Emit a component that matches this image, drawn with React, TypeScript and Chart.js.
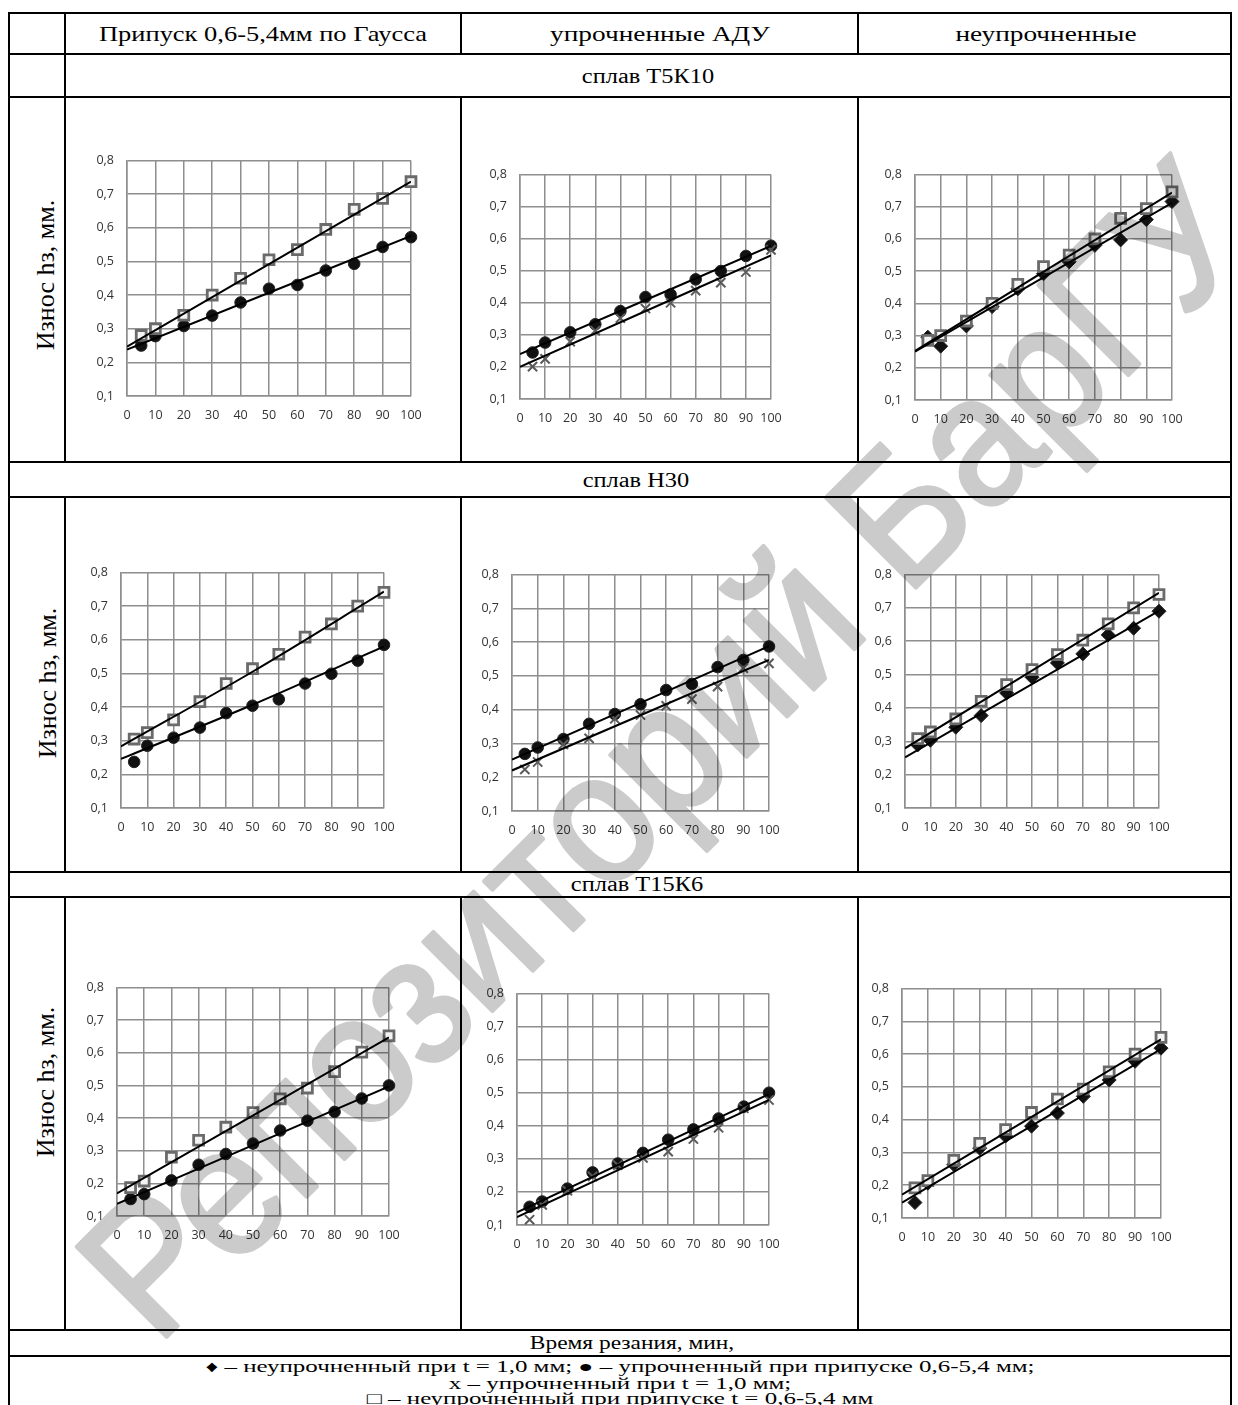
import React, { useEffect, useRef } from "react";
import { Chart, registerables } from "chart.js";

Chart.register(...registerables);

// ---------- shared axis values ----------
const TIME = [5, 10, 20, 30, 40, 50, 60, 70, 80, 90, 100];
const X_TICKS = [0, 10, 20, 30, 40, 50, 60, 70, 80, 90, 100];
const Y_TICKS = [0.1, 0.2, 0.3, 0.4, 0.5, 0.6, 0.7, 0.8];
const TREND_X = [0, 100];
const TREND_X3 = [0, 50, 100];

// ---------- сплав Т5К10 ----------
const t5k10GaussSquares = [0.28, 0.3, 0.34, 0.4, 0.45, 0.505, 0.535, 0.595, 0.655, 0.687, 0.737];
const t5k10GaussCircles = [0.25, 0.278, 0.308, 0.339, 0.378, 0.419, 0.43, 0.473, 0.493, 0.543, 0.572];
const t5k10GaussTrendSquares = [0.247, 0.737];
const t5k10GaussTrendCircles = [0.238, 0.576];

const t5k10AduCircles = [0.245, 0.276, 0.308, 0.333, 0.374, 0.418, 0.426, 0.473, 0.499, 0.546, 0.578];
const t5k10AduCrosses = [0.201, 0.225, 0.279, 0.313, 0.352, 0.382, 0.4, 0.438, 0.463, 0.496, 0.565];
const t5k10AduTrendCircles = [0.24, 0.577];
const t5k10AduTrendCrosses = [0.2, 0.548];

const t5k10RawSquares = [0.285, 0.3, 0.345, 0.4, 0.459, 0.514, 0.55, 0.6, 0.664, 0.694, 0.746];
const t5k10RawDiamonds = [0.295, 0.267, 0.33, 0.39, 0.445, 0.492, 0.529, 0.58, 0.597, 0.66, 0.716];
const t5k10RawTrendSquares = [0.252, 0.744];
const t5k10RawTrendDiamonds = [0.25, 0.712];

// ---------- сплав Н30 ----------
const h30GaussSquares = [0.305, 0.324, 0.362, 0.416, 0.47, 0.514, 0.557, 0.608, 0.647, 0.7, 0.741];
const h30GaussCircles = [0.237, 0.285, 0.309, 0.339, 0.382, 0.404, 0.423, 0.47, 0.499, 0.538, 0.585];
const h30GaussTrendSquares = [0.283, 0.505, 0.743];
const h30GaussTrendCircles = [0.246, 0.407, 0.58];

const h30AduCircles = [0.269, 0.288, 0.313, 0.358, 0.387, 0.416, 0.458, 0.476, 0.526, 0.547, 0.587];
const h30AduCrosses = [0.223, 0.245, 0.297, 0.315, 0.373, 0.384, 0.411, 0.431, 0.468, 0.523, 0.537];
const h30AduTrendCircles = [0.252, 0.588];
const h30AduTrendCrosses = [0.22, 0.547];

const h30RawSquares = [0.308, 0.328, 0.367, 0.42, 0.47, 0.515, 0.56, 0.603, 0.652, 0.7, 0.74];
const h30RawDiamonds = [0.289, 0.303, 0.342, 0.377, 0.445, 0.492, 0.535, 0.562, 0.619, 0.639, 0.69];
const h30RawTrendSquares = [0.279, 0.745];
const h30RawTrendDiamonds = [0.252, 0.691];

// ---------- сплав Т15К6 ----------
const t15k6GaussSquares = [0.187, 0.207, 0.28, 0.332, 0.372, 0.417, 0.459, 0.492, 0.542, 0.602, 0.652];
const t15k6GaussCircles = [0.152, 0.167, 0.209, 0.257, 0.29, 0.322, 0.362, 0.392, 0.419, 0.46, 0.5];
const t15k6GaussTrendSquares = [0.169, 0.647];
const t15k6GaussTrendCircles = [0.137, 0.497];

const t15k6AduCircles = [0.155, 0.171, 0.21, 0.259, 0.286, 0.318, 0.358, 0.389, 0.422, 0.458, 0.5];
const t15k6AduCrosses = [0.116, 0.161, 0.204, 0.247, 0.281, 0.303, 0.322, 0.36, 0.394, 0.453, 0.478];
const t15k6AduTrendCircles = [0.138, 0.496];
const t15k6AduTrendCrosses = [0.124, 0.478];

const t15k6RawSquares = [0.192, 0.214, 0.276, 0.328, 0.37, 0.422, 0.463, 0.493, 0.546, 0.6, 0.651];
const t15k6RawDiamonds = [0.147, 0.206, 0.263, 0.313, 0.35, 0.38, 0.42, 0.471, 0.521, 0.578, 0.618];
const t15k6RawTrendSquares = [0.171, 0.645];
const t15k6RawTrendDiamonds = [0.147, 0.615];

// ---------- texts ----------
const HEADERS = ["Припуск 0,6-5,4мм по Гаусса", "упрочненные АДУ", "неупрочненные"];
const ALLOYS = ["сплав Т5К10", "сплав Н30", "сплав Т15К6"];
const Y_TITLE = "Износ hз, мм.";
const X_TITLE = "Время резания, мин,";
const LEGEND_LINES = [
  "♦ – неупрочненный при t = 1,0 мм;  ● – упрочненный при припуске 0,6-5,4 мм;",
  "х – упрочненный при t = 1,0 мм;",
  "□ – неупрочненный при припуске t = 0,6-5,4 мм",
];
const WATERMARK = "Репозиторий БарГУ";

type Kind = "square" | "circle" | "cross" | "diamond";
type Series = { kind: Kind; y: number[] };
type Trend = { x: number[]; y: number[] };
type Rect = { l: number; t: number; r: number; b: number };

const GRID = "#8e8e8e";
const PADL = 60;
const PADT = 15;
const PADR = 24;
const PADB = 44;

function markerStyle(kind: Kind) {
  switch (kind) {
    case "square":
      return { pointStyle: "rect", pointRadius: 7, pointBackgroundColor: "#f4f4f4", pointBorderColor: "#6a6a6a", pointBorderWidth: 2.8 };
    case "circle":
      return { pointStyle: "circle", pointRadius: 5.8, pointBackgroundColor: "#111111", pointBorderColor: "#222222", pointBorderWidth: 1 };
    case "cross":
      return { pointStyle: "crossRot", pointRadius: 6.5, pointBackgroundColor: "#5a5a5a", pointBorderColor: "#5a5a5a", pointBorderWidth: 2 };
    default:
      return { pointStyle: "rectRot", pointRadius: 7, pointBackgroundColor: "#111111", pointBorderColor: "#222222", pointBorderWidth: 1 };
  }
}

function Plot({ rect, series, trends }: { rect: Rect; series: Series[]; trends: Trend[] }) {
  const ref = useRef<HTMLCanvasElement>(null);
  const left = Math.round(rect.l) - PADL;
  const top = Math.round(rect.t) - PADT;
  const w = Math.round(rect.r) - Math.round(rect.l) + PADL + PADR;
  const h = Math.round(rect.b) - Math.round(rect.t) + PADT + PADB;

  useEffect(() => {
    if (!ref.current) return;
    const trendSets = trends.map((tr) => ({
      data: tr.x.map((x, i) => ({ x, y: tr.y[i] })),
      showLine: true,
      pointRadius: 0,
      borderColor: "#000000",
      borderWidth: 2,
      cubicInterpolationMode: "monotone",
      fill: false,
    }));
    const markerSets = series.map((s) => ({
      data: TIME.map((x, i) => ({ x, y: s.y[i] })),
      showLine: false,
      clip: false,
      ...markerStyle(s.kind),
    }));
    const tickFont = { family: "'Open Sans', 'Noto Sans', sans-serif", size: 12.5 };
    const chart = new Chart(ref.current, {
      type: "scatter",
      data: { datasets: [...trendSets, ...markerSets] as any },
      options: {
        responsive: false,
        animation: false,
        devicePixelRatio: 1,
        layout: { padding: { left: 0, top: PADT, right: PADR, bottom: 0 } },
        plugins: { legend: { display: false }, tooltip: { enabled: false } },
        scales: {
          x: {
            type: "linear",
            min: 0,
            max: 100,
            afterBuildTicks: (s: any) => {
              s.ticks = X_TICKS.map((v) => ({ value: v }));
            },
            afterFit: (s: any) => {
              s.height = PADB;
            },
            grid: { color: GRID, lineWidth: 1.5, drawTicks: false },
            border: { color: GRID, width: 1.5 },
            ticks: {
              padding: 12,
              color: "#333333",
              font: tickFont,
              autoSkip: false,
              maxRotation: 0,
              callback: (v: any) => String(v),
            },
          },
          y: {
            type: "linear",
            min: 0.1,
            max: 0.8,
            afterBuildTicks: (s: any) => {
              s.ticks = Y_TICKS.map((v) => ({ value: v }));
            },
            afterFit: (s: any) => {
              s.width = PADL;
            },
            grid: { color: GRID, lineWidth: 1.5, drawTicks: false },
            border: { color: GRID, width: 1.5 },
            ticks: {
              padding: 13,
              color: "#333333",
              font: tickFont,
              autoSkip: false,
              callback: (v: any) => Number(v).toFixed(1).replace(".", ","),
            },
          },
        },
      } as any,
    });
    return () => chart.destroy();
  }, []);

  return (
    <canvas
      ref={ref}
      width={w}
      height={h}
      style={{ position: "absolute", left, top, width: w, height: h }}
    />
  );
}

const SERIF = "'Liberation Serif', 'Times New Roman', serif";

function Text({ cx, cy, text, size = 20, sx = 1.28 }: { cx: number; cy: number; text: string; size?: number; sx?: number }) {
  return (
    <div
      style={{
        position: "absolute",
        left: cx - 600,
        width: 1200,
        top: cy - size,
        height: size * 2,
        lineHeight: `${size * 2}px`,
        textAlign: "center",
        fontFamily: SERIF,
        fontSize: size,
        color: "#000",
        whiteSpace: "nowrap",
        transform: `scaleX(${sx})`,
        transformOrigin: "50% 50%",
      }}
    >
      {text}
    </div>
  );
}

function VText({ cx, cy, text }: { cx: number; cy: number; text: string }) {
  return (
    <div
      style={{
        position: "absolute",
        left: cx - 150,
        top: cy - 16,
        width: 300,
        height: 32,
        lineHeight: "32px",
        textAlign: "center",
        fontFamily: SERIF,
        fontSize: 26,
        transform: "rotate(-90deg)",
        whiteSpace: "nowrap",
      }}
    >
      {text}
    </div>
  );
}

const LX = 9;
const RX = 1231;
const C1 = 65;
const C2 = 461;
const C3 = 858;
const ROW_Y = [13, 54, 97, 462, 497, 872, 897, 1330, 1356];

function HLine({ y }: { y: number }) {
  return <div style={{ position: "absolute", left: LX - 1, top: y - 1, width: RX - LX + 2, height: 2, background: "#000" }} />;
}
function VLine({ x, y1, y2 }: { x: number; y1: number; y2: number }) {
  return <div style={{ position: "absolute", left: x - 1, top: y1 - 1, width: 2, height: y2 - y1 + 2, background: "#000" }} />;
}

export default function App() {
  useEffect(() => {
    document.body.style.margin = "0";
  }, []);

  const plots: { rect: Rect; series: Series[]; trends: Trend[] }[] = [
    {
      rect: { l: 127, t: 155, r: 411, b: 396 },
      series: [{ kind: "square", y: t5k10GaussSquares }, { kind: "circle", y: t5k10GaussCircles }],
      trends: [{ x: TREND_X, y: t5k10GaussTrendSquares }, { x: TREND_X, y: t5k10GaussTrendCircles }],
    },
    {
      rect: { l: 520, t: 169, r: 771, b: 399 },
      series: [{ kind: "cross", y: t5k10AduCrosses }, { kind: "circle", y: t5k10AduCircles }],
      trends: [{ x: TREND_X, y: t5k10AduTrendCircles }, { x: TREND_X, y: t5k10AduTrendCrosses }],
    },
    {
      rect: { l: 915, t: 169, r: 1172, b: 400 },
      series: [{ kind: "square", y: t5k10RawSquares }, { kind: "diamond", y: t5k10RawDiamonds }],
      trends: [{ x: TREND_X, y: t5k10RawTrendSquares }, { x: TREND_X, y: t5k10RawTrendDiamonds }],
    },
    {
      rect: { l: 121, t: 567, r: 384, b: 808 },
      series: [{ kind: "square", y: h30GaussSquares }, { kind: "circle", y: h30GaussCircles }],
      trends: [{ x: TREND_X3, y: h30GaussTrendSquares }, { x: TREND_X3, y: h30GaussTrendCircles }],
    },
    {
      rect: { l: 512, t: 569, r: 769, b: 811 },
      series: [{ kind: "cross", y: h30AduCrosses }, { kind: "circle", y: h30AduCircles }],
      trends: [{ x: TREND_X, y: h30AduTrendCircles }, { x: TREND_X, y: h30AduTrendCrosses }],
    },
    {
      rect: { l: 905, t: 569, r: 1159, b: 808 },
      series: [{ kind: "square", y: h30RawSquares }, { kind: "diamond", y: h30RawDiamonds }],
      trends: [{ x: TREND_X, y: h30RawTrendSquares }, { x: TREND_X, y: h30RawTrendDiamonds }],
    },
    {
      rect: { l: 117, t: 982, r: 389, b: 1216 },
      series: [{ kind: "square", y: t15k6GaussSquares }, { kind: "circle", y: t15k6GaussCircles }],
      trends: [{ x: TREND_X, y: t15k6GaussTrendSquares }, { x: TREND_X, y: t15k6GaussTrendCircles }],
    },
    {
      rect: { l: 517, t: 988, r: 769, b: 1225 },
      series: [{ kind: "cross", y: t15k6AduCrosses }, { kind: "circle", y: t15k6AduCircles }],
      trends: [{ x: TREND_X, y: t15k6AduTrendCircles }, { x: TREND_X, y: t15k6AduTrendCrosses }],
    },
    {
      rect: { l: 902, t: 983, r: 1161, b: 1218 },
      series: [{ kind: "square", y: t15k6RawSquares }, { kind: "diamond", y: t15k6RawDiamonds }],
      trends: [{ x: TREND_X, y: t15k6RawTrendSquares }, { x: TREND_X, y: t15k6RawTrendDiamonds }],
    },
  ];

  return (
    <div style={{ position: "relative", width: 1238, height: 1405, overflow: "hidden", background: "#fff" }}>
      {ROW_Y.map((y) => (
        <HLine key={"h" + y} y={y} />
      ))}
      <VLine x={LX} y1={ROW_Y[0]} y2={1405} />
      <VLine x={RX} y1={ROW_Y[0]} y2={1405} />
      <VLine x={C1} y1={ROW_Y[0]} y2={ROW_Y[3]} />
      <VLine x={C1} y1={ROW_Y[4]} y2={ROW_Y[5]} />
      <VLine x={C1} y1={ROW_Y[6]} y2={ROW_Y[7]} />
      {[C2, C3].map((x) => (
        <React.Fragment key={"v" + x}>
          <VLine x={x} y1={ROW_Y[0]} y2={ROW_Y[1]} />
          <VLine x={x} y1={ROW_Y[2]} y2={ROW_Y[3]} />
          <VLine x={x} y1={ROW_Y[4]} y2={ROW_Y[5]} />
          <VLine x={x} y1={ROW_Y[6]} y2={ROW_Y[7]} />
        </React.Fragment>
      ))}

      <Text cx={263} cy={34} text={HEADERS[0]} size={21} sx={1.26} />
      <Text cx={660} cy={34} text={HEADERS[1]} size={21} sx={1.3} />
      <Text cx={1046} cy={34} text={HEADERS[2]} size={21} sx={1.3} />
      <Text cx={648} cy={76} text={ALLOYS[0]} size={20} sx={1.22} />
      <Text cx={636} cy={480} text={ALLOYS[1]} size={20} sx={1.22} />
      <Text cx={637} cy={884} text={ALLOYS[2]} size={20} sx={1.22} />

      <VText cx={46} cy={275} text={Y_TITLE} />
      <VText cx={48} cy={683} text={Y_TITLE} />
      <VText cx={46} cy={1082} text={Y_TITLE} />

      {plots.map((p, i) => (
        <Plot key={i} rect={p.rect} series={p.series} trends={p.trends} />
      ))}

      <Text cx={632} cy={1343} text={X_TITLE} size={18} sx={1.3} />
      <Text cx={620} cy={1367} text={LEGEND_LINES[0]} size={16} sx={1.56} />
      <Text cx={620} cy={1384} text={LEGEND_LINES[1]} size={16} sx={1.56} />
      <Text cx={620} cy={1399} text={LEGEND_LINES[2]} size={16} sx={1.56} />

      <svg
        width={1238}
        height={1405}
        style={{ position: "absolute", left: 0, top: 0, pointerEvents: "none", mixBlendMode: "multiply" }}
      >
        <text
          x={663}
          y={750}
          transform="rotate(-45 663 750)"
          textAnchor="middle"
          dominantBaseline="central"
          fontFamily="'Liberation Sans', Arial, sans-serif"
          fontSize={185}
          fill="#cbcbcb"
          stroke="#cbcbcb"
          strokeWidth={4}
          strokeLinejoin="round"
          textLength={1560}
          lengthAdjust="spacingAndGlyphs"
        >
          {WATERMARK}
        </text>
      </svg>
    </div>
  );
}
